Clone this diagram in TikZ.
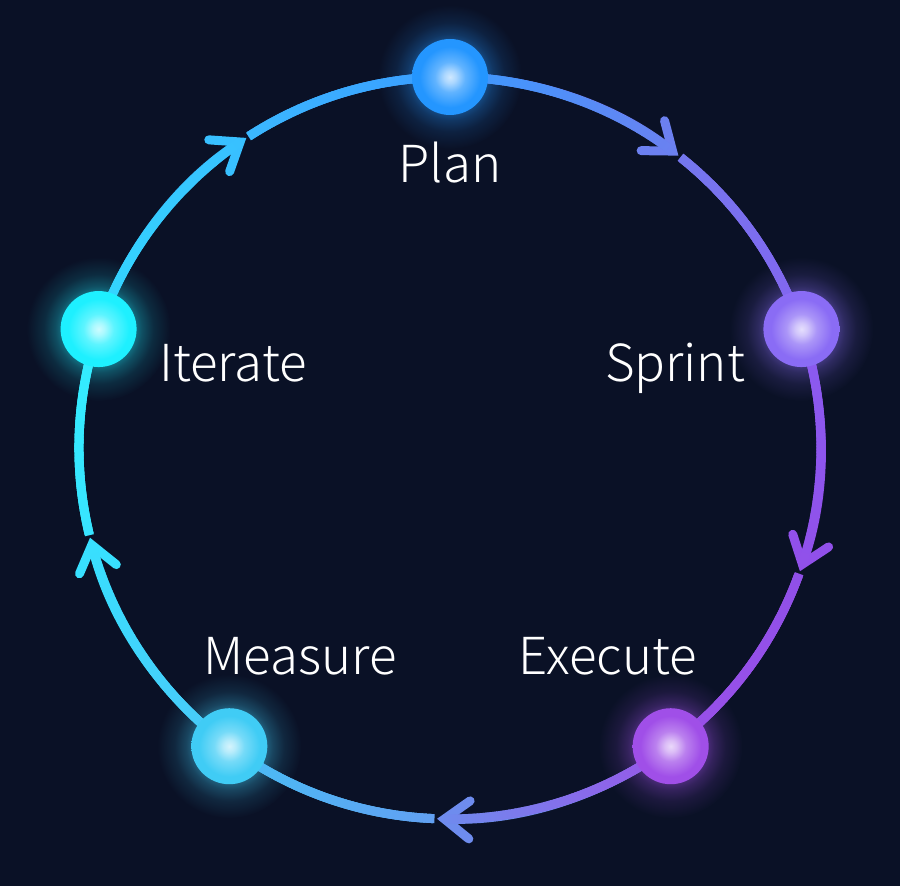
\documentclass[tikz,border=0pt]{standalone}
\usepackage{fontspec}
\setmainfont{Noto Sans CJK SC}[UprightFont=* Light]
\usetikzlibrary{arrows.meta, calc, decorations.markings}
\definecolor{NightBg}{HTML}{0A1126}
\colorlet{ballc}{white}
\pgfdeclarelayer{ring}
\pgfsetlayers{ring,main}
\pgfdeclareradialshading[ballc]{ballshade}{\pgfpoint{0bp}{0bp}}{color(0bp)=(white!78!ballc); color(4bp)=(white!62!ballc); color(10bp)=(white!28!ballc); color(20bp)=(ballc); color(50bp)=(ballc)}
\pgfdeclareradialshading[ballc]{glowshade}{\pgfpoint{0bp}{0bp}}{color(0bp)=(ballc!48!NightBg); color(11.9bp)=(ballc!48!NightBg); color(15bp)=(ballc!28!NightBg); color(19bp)=(ballc!12!NightBg); color(25bp)=(NightBg); color(50bp)=(NightBg)}
\tikzset{
    ball/.style={circle, minimum size=76pt, inner sep=0pt, shading=ballshade},
    glow/.style={shading=glowshade},
    ringline/.style={line width=9pt},
    ringmix/.style 2 args={
        color=#2,
        decoration={markings, mark=between positions 0 and 0.965 step 1.5pt with {
            \pgfmathsetmacro{\mixval}{(\pgfkeysvalueof{/pgf/decoration/mark info/distance from start}/\pgfdecoratedpathlength)*100}
            \fill[#2!\mixval!#1] (-1.3pt,-4.5pt) rectangle (1.3pt,4.5pt);
        }},
        postaction={decorate}
    },
    tipped/.style={-{Straight Barb[length=25pt,width=38pt,line cap=round]}},
    steplabel/.style={text=white, anchor=base, font=\fontsize{51}{51}\selectfont}
}
\begin{document}
\begin{tikzpicture}[x=1pt, y=1pt]
    \useasboundingbox (0,0) rectangle (900,886);
    \begin{pgfonlayer}{ring}
        \fill[NightBg] (0,0) rectangle (900,886);
    \end{pgfonlayer}
    \coordinate (hub) at (450,438);

    % Balls and their glow
    \foreach \name/\ang/\col in {plan/90/2496FF, sprint/18.7/8A6CF5, execute/-53.5/A04FE8, measure/-126.5/40CCF5, iterate/161.3/1EF0FF}{
        \definecolor{ballc}{HTML}{\col}
        \node[ball] (\name) at ($(hub)+(\ang:371)$) {};
        \begin{pgfonlayer}{ring}
            \shade[glow] (\name.center) circle (72pt);
        \end{pgfonlayer}
    }

    % Arrow tips and the points where the line starts again
    \foreach \name/\ang in {tipA/52, tipB/-19.4, tipC/-92, tipD/-166, tipE/123.3}{
        \coordinate (\name) at ($(hub)+(\ang:371)$);
    }
    \foreach \name/\ang in {gapA/51.4, gapB/-20, gapC/-92.6, gapD/-166.6, gapE/122.7}{
        \coordinate (\name) at ($(hub)+(\ang:371)$);
    }

    \begin{pgfonlayer}{ring}
        % Ball to arrow tip
        \foreach \a/\b/\bend/\ca/\cb in {plan/tipA/19/3A9BFF/6C80F0, sprint/tipB/19/8A5CF0/9150EA, execute/tipC/19.2/9A55E8/6E8CEE, measure/tipD/19.7/4AC8F8/38E0FF, iterate/tipE/19/33D8FF/38C0FF}{
            \definecolor{ca}{HTML}{\ca}
            \definecolor{cb}{HTML}{\cb}
            \draw[ringline, tipped, ringmix={ca}{cb}] (\a.center) to[bend left=\bend, looseness=0.875] (\b);
        }
        % Gap to next ball
        \foreach \a/\b/\bend/\ca/\cb in {gapA/sprint/16.3/7477EE/8464F0, gapB/execute/16.7/9050E8/9A50E8, gapC/measure/17/62A0F2/48BEF5, gapD/iterate/16/38E4FF/33EEFF, gapE/plan/16.3/3BB8FF/3A9CFF}{
            \definecolor{ca}{HTML}{\ca}
            \definecolor{cb}{HTML}{\cb}
            \draw[ringline, ringmix={ca}{cb}] (\a) to[bend left=\bend, looseness=0.875] (\b.center);
        }
    \end{pgfonlayer}

    % Labels
    \node[steplabel] (planlabel) at (450,703) {Plan};
    \node[steplabel] (sprintlabel) at (675,504) {Sprint};
    \node[steplabel] (iteratelabel) at (233,504) {Iterate};
    \node[steplabel] (measurelabel) at (300,211) {Measure};
    \node[steplabel] (executelabel) at (608,211) {Execute};
\end{tikzpicture}
\end{document}
